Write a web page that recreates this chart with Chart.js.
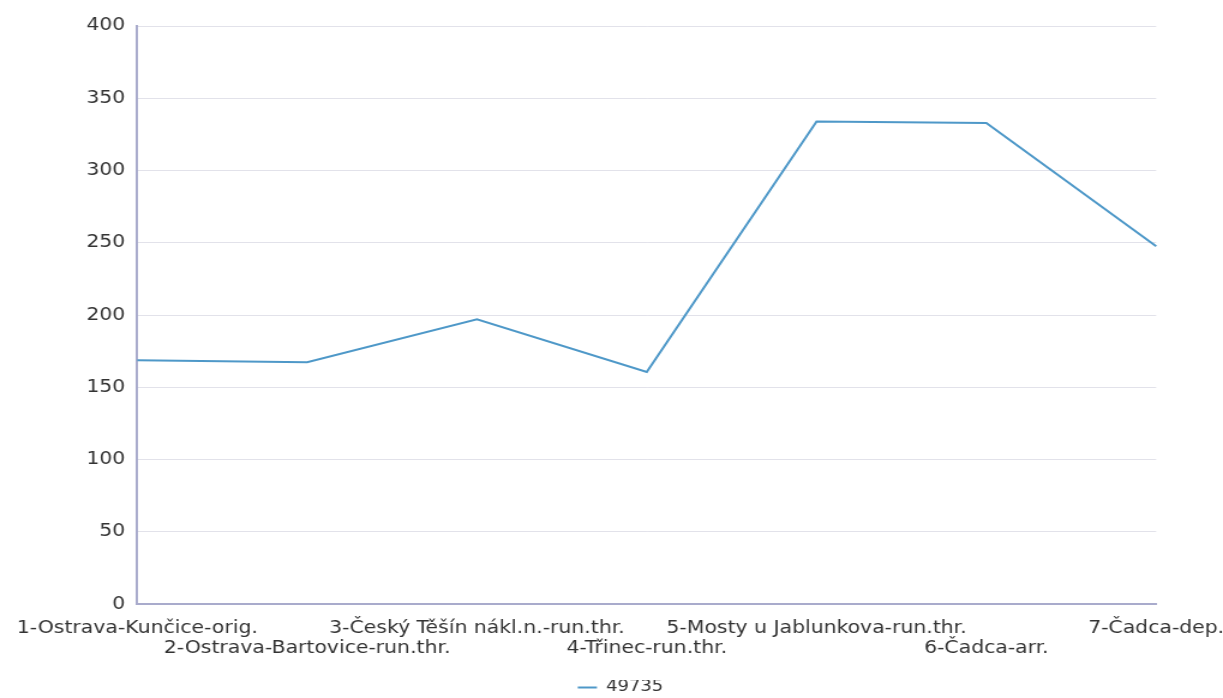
<!DOCTYPE html>
<html>
<head>
<meta charset="utf-8">
<script src="https://cdn.jsdelivr.net/npm/chart.js@4"></script>
<style>
  html, body { margin: 0; padding: 0; background: #fff; overflow: hidden; }
  /* the reference is stretched sideways, so draw narrow and widen it */
  #wrap { width: 1034px; height: 698px; transform: scaleX(1.2002); transform-origin: 0 0; }
</style>
</head>
<body>
<div id="wrap"><canvas id="trainChart"></canvas></div>
<script>
  const stations = [
    '1-Ostrava-Kunčice-orig.',
    '2-Ostrava-Bartovice-run.thr.',
    '3-Český Těšín nákl.n.-run.thr.',
    '4-Třinec-run.thr.',
    '5-Mosty u Jablunkova-run.thr.',
    '6-Čadca-arr.',
    '7-Čadca-dep.'
  ];
  const train49735 = [168.7, 167.4, 197.1, 160.6, 334.0, 332.9, 247.7];
  const yTicks = [0, 50, 100, 150, 200, 250, 300, 350, 400];

  // every second label drops to a second row
  const xLabels = stations.map((s, i) => i % 2 === 1 ? ['', s] : s);

  Chart.defaults.font.family = '"DejaVu Sans", sans-serif';
  Chart.defaults.font.size = 17;
  Chart.defaults.color = '#333';

  var ctx = document.getElementById('trainChart').getContext('2d');
  var trainChart = new Chart(ctx, {
    type: 'line',
    data: {
      labels: xLabels,
      datasets: [{
        label: '49735',
        data: train49735,
        borderColor: 'rgb(78, 152, 200)',
        backgroundColor: 'rgb(78, 152, 200)',
        borderWidth: 2,
        pointRadius: 0,
        tension: 0,
        fill: false
      }]
    },
    options: {
      responsive: true,
      maintainAspectRatio: false,
      animation: false,
      layout: { padding: { left: 0, right: 0, top: 26, bottom: -7 } },
      plugins: {
        tooltip: { enabled: false },
        legend: {
          position: 'bottom',
          labels: {
            usePointStyle: true,
            pointStyle: 'line',
            pointStyleWidth: 16,
            padding: 0,
            font: { size: 15 },
            color: '#333'
          }
        }
      },
      scales: {
        x: {
          offset: false,
          grid: { display: false, drawTicks: false },
          border: { color: '#a9abcc', width: 2 },
          ticks: { autoSkip: false, maxRotation: 0, padding: 14, color: '#333' },
          afterFit: scale => { scale.height += 7; }
        },
        y: {
          min: yTicks[0],
          max: yTicks[yTicks.length - 1],
          afterBuildTicks: axis => { axis.ticks = yTicks.map(v => ({ value: v })); },
          afterFit: scale => { scale.width += 61; },
          grid: { color: '#e2e2ea', drawTicks: false },
          border: { color: '#a9abcc', width: 2 },
          ticks: { padding: 10, color: '#333' }
        }
      }
    }
  });
</script>
</body>
</html>
